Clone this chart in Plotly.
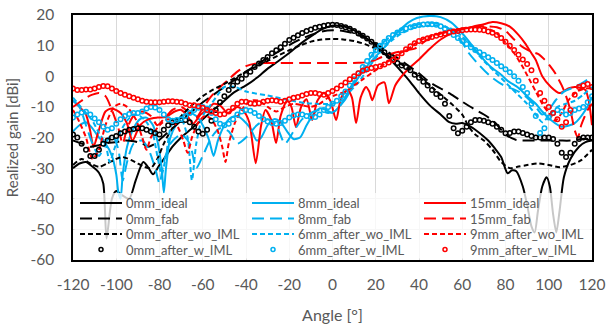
import plotly.graph_objects as go

# ---------------- 0 mm (black) ----------------
ang_0mm_ideal = [-120, -117, -114, -111, -108, -106, -104.5, -102, -100, -97, -94, -91, -87.5, -85, -83,
                 -80, -77, -74, -70, -65, -60, -55, -50, -46, -40, -35, -30, -25, -20, -15, -10, -5, 0,
                 5, 10, 15, 20, 25, 30, 35, 40, 45, 50, 54, 57, 60, 64, 68, 72, 75, 78, 81, 83, 85, 88,
                 90, 92, 93.5, 95, 97, 99, 100.5, 102, 103.5, 105, 107, 110, 114, 117, 120]
gain_0mm_ideal = [-30, -28.5, -28, -29.5, -31.5, -35, -53, -40, -37.5, -39, -40, -34, -28, -30, -32,
                  -29, -26, -23, -20, -17, -14, -11, -8, -5.5, -3, -0.5, 2.5, 5, 7.6, 10.5, 13, 15.3, 16.5,
                  16.3, 15, 12.8, 10, 6.8, 3, -1, -5.5, -9.5, -12.5, -15, -15.5, -15.3, -16.5, -18.5, -21, -23.5, -26.4, -31.7, -30.7, -31, -36,
                  -42, -49, -51, -44, -36, -33, -36, -45, -51, -44, -33, -27, -23, -21.5, -21]

ang_0mm_fab = [-120, -116, -112, -108, -104, -100, -96, -92, -88, -85, -82, -78, -74, -70, -65, -60, -55,
               -50, -45, -40, -35, -30, -25, -20, -15, -10, -5, 0, 5, 10, 15, 20, 25, 30, 35, 40, 45,
               50, 55, 60, 65, 70, 75, 80, 85, 90, 95, 100, 105, 110, 115, 120]
gain_0mm_fab = [-21, -22, -23, -22.5, -21.8, -21.5, -21, -21.2, -22, -23, -22, -19.5, -17, -14.5, -11.5, -8.5, -6,
                -3.5, -1, 1.5, 3.8, 6, 8, 10.2, 12, 13.5, 14.6, 15, 14.8, 14, 12.5, 10.5, 8.2, 6, 3.5, 1, -2,
                -4, -6, -8.3, -10.5, -12.5, -15, -19, -20.8, -21, -21, -21, -21, -21, -20.5, -20.5]

ang_0mm_wo = [-120, -116, -112, -108, -104, -100, -97, -93, -90, -87, -84, -81, -78, -75, -70, -65, -60,
              -55, -50, -45, -40, -35, -30, -25, -20, -15, -10, -5, 0, 5, 10, 15, 20, 25, 30, 35, 40,
              45, 50, 55, 60, 63, 66, 70, 74, 78, 82, 86, 90, 95, 100, 105, 110, 115, 120]
gain_0mm_wo = [-29, -27, -28.5, -29.6, -28.4, -27, -26.4, -27.4, -28.5, -29.6, -30, -27, -22, -18, -13, -9.5, -6.5,
               -4.3, -2.5, -0.5, 1.5, 3.3, 5, 6.8, 8.5, 10, 11.3, 12, 12.2, 12, 11.5, 10.5, 9, 7, 4.8, 2.5, 0,
               -3, -6, -9, -12.5, -16.5, -19, -21, -24, -28, -30, -29.5, -29, -28.5, -29, -29.7, -29, -27.4, -24]

# sampled every 2 degrees
ang_2deg = list(range(-120, 121, 2))
gain_0mm_w = [-19, -20, -22, -24, -26, -26, -24, -22, -21, -20, -19.5, -18.6, -18, -17.5, -17.2, -17,
              -17, -17.5, -18, -18.5, -19, -17.5, -16, -15, -14.5, -14.3, -14.3, -15, -16.5, -18, -18.8,
              -17.5, -14.5, -11, -8.5, -6.5, -4.5, -3, -1.8, -0.8, 0.5, 1.5, 3, 4.2, 5.3, 6.3, 7.5, 8.5,
              9.5, 10.6, 11.8, 12.6, 13.4, 14.1, 14.8, 15.3, 15.8, 16.2, 16.5, 16.7, 16.8, 16.7, 16.4, 16,
              15.5, 14.8, 14, 13.2, 12.3, 11.3, 10.2, 9, 7.8, 6.7, 5.5, 4.3, 3.5, 3, 2, 0.5, -0.5, -1.8,
              -3, -4.5, -5.8, -6.8, -9, -13, -17, -18.6, -17.8, -16.5, -15, -14.3, -14.3, -14.5, -15,
              -15.5, -16.5, -17.5, -18.6, -18.5, -18, -18, -18.5, -19, -19.5, -20, -20, -20, -20, -20.5,
              -22, -25, -26.4, -25, -22, -20.5, -20, -20, -20]

# ---------------- 8 mm / 6 mm (blue) ----------------
ang_8mm_ideal = [-120, -117, -114, -111, -108, -105, -102, -100, -99, -98, -97, -95, -92, -89, -86, -83,
                 -81, -79, -78, -77, -75, -72, -69, -66, -63, -60, -57, -55, -53, -50, -47, -44, -41, -38,
                 -35, -33, -30, -27, -24, -21, -18, -15, -12, -9, -6, -3, 0, 3, 6, 10, 15, 20, 23, 27, 31,
                 35, 39, 45, 50, 55, 60, 63, 68, 73, 78, 81, 86, 90, 94, 97, 101, 106, 112, 117, 120]
gain_8mm_ideal = [-18, -16, -15, -17, -20, -22, -26, -32, -38, -40, -32, -23, -17, -14, -13.5, -16,
                  -21, -30, -38, -30, -20, -15.5, -13, -12, -13, -16, -21, -26, -21, -16, -13.5, -13, -14.5, -17,
                  -21, -20, -16, -14, -15, -18, -20.5, -20, -16, -12.5, -10.5, -11, -12, -10, -7.5, -2.5, 2.5, 6.5, 8.6, 12, 15,
                  17.5, 19, 19.7, 19.3, 17.5, 14, 11.5, 7, 3.2, 0.5, -1.5, -3.8, -6.5, -9, -11.5, -14.3, -16.5, -15.3, -11, -6.8]

ang_8mm_fab = [-120, -117, -114, -111, -108, -105, -102, -99, -97, -95, -92, -88, -85, -82, -80, -78, -75,
               -70, -66, -63, -60, -56, -52, -48, -44, -40, -35, -30, -26, -22, -18, -14, -10, -6, -2, 2,
               5, 8, 12, 16, 20, 25, 30, 35, 40, 45, 50, 55, 60, 63, 68, 73, 78, 81, 86, 90, 94, 97,
               100, 103, 107, 112, 116, 120]
gain_8mm_fab = [-8, -10, -16, -22, -26, -22, -19, -24, -34, -28, -22, -21, -24, -30, -35, -28, -22,
                -19, -22, -30, -26, -20, -17, -18, -22, -20, -16, -14, -16, -22, -18, -14, -12, -11, -12, -11,
                -8, -4, 0.5, 4.5, 8.5, 12, 14.5, 16, 17, 17.5, 17, 15, 11, 7.6, 3.5, 0, -2.5, -3.5, -5, -7, -10, -12.5,
                -11, -8, -5, -3.5, -2, 0]

ang_6mm_wo = [-120, -117, -114, -111, -108, -105, -103, -101, -98, -95, -92, -89, -86, -83, -81, -79, -77,
              -74, -70, -67, -65, -63, -60, -56, -53, -50, -45, -40, -30, -20, -12, 0, 4, 8, 12, 16, 20,
              24, 28, 32, 36, 40, 45, 50, 55, 60, 65, 70, 75, 80, 85, 90, 94, 97, 100, 104, 108, 112,
              116, 120]
gain_6mm_wo = [-7, -9.5, -12, -14.5, -18.5, -22, -28, -24, -18, -14.5, -12.5, -13, -15, -19, -26, -32, -26,
               -15, -14, -20, -34, -22, -13, -9, -6, -3.5, -3.5, -5, -6.3, -7.8, -8.8, -9, -8, -5, -2, 2, 6,
               9.5, 12, 14, 15.3, 16.2, 16.6, 16.5, 15.5, 13, 9, 5, 1.5, -2, -5.5, -9, -12.5, -15, -13, -10, -9, -8,
               -6, -3.5]

gain_6mm_w = [-13.5, -12.5, -11.8, -11.6, -12.5, -13.8, -15, -16.5, -17.5, -17, -15.5, -14, -13, -12.3,
              -12, -12, -11.5, -10.5, -10, -10.2, -11, -12.5, -14, -14.5, -14.3, -14, -13, -12, -11, -10.3,
              -10, -10.5, -12, -14, -15.5, -16, -15.5, -14, -12.5, -11.5, -11, -11.3, -12, -13, -14, -14.8,
              -15.3, -15.5, -15.3, -14.5, -13.5, -12.8, -12.5, -12.5, -13, -13.5, -13.3, -12.5, -11, -10,
              -9, -8, -6.5, -5, -3, -1, 1, 3, 5, 7, 8.5, 10, 11.3, 12.5, 13.5, 14.3, 15, 15.6, 16, 16.4,
              16.7, 16.9, 17, 17, 16.8, 16.3, 15.5, 14.5, 13.5, 12.5, 11.5, 10.5, 9.5, 8.6, 7.8, 7, 6.2,
              5.3, 4.3, 3.3, 2.3, 1.3, 0, -1.5, -3.5, -5.5, -9, -13, -18.5, -17, -13.5, -12, -11, -11.5,
              -12.5, -12, -11, -10.5, -10, -8.5, -6.5]

# ---------------- 15 mm / 9 mm (red) ----------------
ang_15mm_ideal = [-120, -117, -114, -112, -110.5, -108, -105, -102, -98, -95, -92.5, -89, -85, -81, -77,
                  -73, -70, -67, -64.5, -61, -58, -55, -52, -48.5, -44, -41, -38.5, -35.5, -33, -31,
                  -28.5, -26.1, -24, -21, -19, -16.9, -14.5, -12, -9.4, -7, -4, -1, 1.7, 4, 7, 9, 10.9,
                  13, 15.5, 17, 18.4, 21, 24, 26.1, 29, 32, 36, 40, 45, 50, 55, 60, 65, 70, 74, 78, 82,
                  86, 89, 92, 94, 97, 101, 105, 109, 112, 115, 117, 118.5, 120]
gain_15mm_ideal = [-8, -10, -12.5, -18, -23, -17.5, -11.5, -10.5, -12, -15.5, -21, -16, -14, -13.5, -13.3,
                   -11.5, -11, -13, -15.5, -12.5, -11, -9, -9.5, -12, -10, -11.5, -15, -28.4, -16, -11,
                   -14, -21.8, -13, -8, -10, -16.6, -10, -7.5, -14.3, -8, -5.5, -8, -14.3, -7, -4.5, -7, -15.3,
                   -7, -3.5, -5, -7.8, -3, -2, -8.8, -3, 0, 3, 5.5, 9, 12, 14, 15.3, 16.2, 17, 17.7, 17.3, 16.2,
                   13.5, 10.8, 7.5, 5.3, 0, -3.5, -5.5, -4, -3.5, -3.8, -4.5, -8, -16]

ang_15mm_fab = [-120, -117, -114, -111, -108, -105, -102, -99, -97, -95, -92, -88, -84, -81, -78, -74, -70,
                -66, -63, -60, -56, -52, -48, -44, -40, -35, -25, -15, -5, 5, 12, 18, 23, 28, 35, 38, 43,
                48, 53, 58, 63, 68, 72, 76, 80, 84, 88, 92, 95, 98, 101, 103, 106, 108, 110, 112, 113.5,
                115, 118, 120]
gain_15mm_fab = [-10, -8.5, -7, -6, -5.5, -6.5, -11, -17, -22, -17, -13, -11.5, -13, -16, -14, -11, -10,
                 -12, -13.5, -10.5, -6.5, -3.5, -1, 1.5, 3.3, 4.2, 4.3, 4.3, 4.3, 4.3, 4.4, 4.8, 6.3, 7.5, 8.6, 9, 11.5,
                 13.5, 14.5, 15.3, 16, 16.3, 16.3, 16, 14.8, 12, 9.5, 8, 7.3, 5.5, 3, 1, -3, -6.5, -11, -17.6, -20,
                 -16, -11, -9]

ang_9mm_wo = [-120, -117, -114, -111, -108, -105, -101, -98, -95, -91, -88, -86, -84, -80, -76, -72, -69,
              -67, -65, -62, -59, -56, -53, -51, -49.5, -48, -45, -42, -38, -34, -30, -26, -22, -18, -14,
              -10, -6, -2, 2, 6, 10, 14, 18, 22, 26, 30, 35, 40, 45, 50, 55, 60, 65, 70, 75, 80, 84,
              88, 91, 94, 97, 100, 103, 106, 109, 113, 117, 120]
gain_9mm_wo = [-11, -15, -20, -27, -24, -16, -10, -9, -10, -14, -20, -24, -20, -16, -14, -16, -21,
               -25, -20, -15, -13, -14, -18, -23, -28, -22, -15, -11, -8, -8, -10, -11.5, -10, -9, -9.5,
               -10, -9, -7, -6, -5, -3, -1, 1, 3, 5, 7, 9, 11.5, 13, 14, 15, 15.5, 16, 16, 14.5, 11, 7.5,
               3, -1, -5, -9, -12, -14.5, -12, -8, -5, -4, -4]

gain_9mm_w = [-4, -4.5, -4.5, -4.3, -4.3, -4, -3.5, -3.2, -3.3, -4, -4.8, -5.5, -6, -6.5, -7, -7.5, -8,
              -8.3, -8.5, -8.5, -8.5, -8.3, -8.2, -8.2, -8.3, -8.5, -9, -9.5, -9.5, -9.8, -10.3, -11,
              -11.5, -12, -12.5, -12.3, -11.5, -10.3, -9, -8.3, -8.3, -8.8, -9, -8.8, -8.3, -8, -7.8, -8,
              -8.3, -8, -7.5, -7, -6.8, -6.3, -5.8, -5.5, -5.5, -5.8, -6, -5.5, -4.8, -4, -3, -2, -1, 0,
              1, 1.8, 2.3, 2.7, 3, 3.3, 3.8, 4.5, 5.3, 6.3, 7.5, 8.8, 9.8, 10.8, 11.5, 12, 12.4, 12.8,
              13.2, 13.6, 14, 14.3, 14.6, 14.8, 15, 15.2, 15.3, 15.3, 15.2, 15, 14.6, 14.2, 13.5, 12.5,
              11.3, 10, 8.6, 7, 5.5, 4, 2, -1.5, -5.5, -8, -10, -12, -14, -16.5, -15, -11, -6, -3.5, -3,
              -2.5, -3.5]

# axis ticks (plain hyphen for negative labels)
x_ticks = list(range(-120, 121, 20))
x_tick_text = [str(v) for v in x_ticks]
y_ticks = list(range(-60, 21, 10))
y_tick_text = [str(v) for v in y_ticks]

BLACK = "#000000"
BLUE = "#00B0F0"
RED = "#FF0000"
GREY_TEXT = "#595959"
FONT = "Lato"

LONG_DASH = "12px,6px"
SHORT_DASH = "5px,3px"

# (name, angles, gains, colour, style), listed row by row for the three-column key
series = [
    ("0mm_ideal", ang_0mm_ideal, gain_0mm_ideal, BLACK, "solid"),
    ("8mm_ideal", ang_8mm_ideal, gain_8mm_ideal, BLUE, "solid"),
    ("15mm_ideal", ang_15mm_ideal, gain_15mm_ideal, RED, "solid"),
    ("0mm_fab", ang_0mm_fab, gain_0mm_fab, BLACK, LONG_DASH),
    ("8mm_fab", ang_8mm_fab, gain_8mm_fab, BLUE, LONG_DASH),
    ("15mm_fab", ang_15mm_fab, gain_15mm_fab, RED, LONG_DASH),
    ("0mm_after_wo_IML", ang_0mm_wo, gain_0mm_wo, BLACK, SHORT_DASH),
    ("6mm_after_wo_IML", ang_6mm_wo, gain_6mm_wo, BLUE, SHORT_DASH),
    ("9mm_after_wo_IML", ang_9mm_wo, gain_9mm_wo, RED, SHORT_DASH),
    ("0mm_after_w_IML", ang_2deg, gain_0mm_w, BLACK, "markers"),
    ("6mm_after_w_IML", ang_2deg, gain_6mm_w, BLUE, "markers"),
    ("9mm_after_w_IML", ang_2deg, gain_9mm_w, RED, "markers"),
]

# figure geometry in pixels
W, H = 606, 324
ML, MR, MT, MB = 73, 14, 15, 64
PW, PH = W - ML - MR, H - MT - MB


def px_x(px):
    return (px - ML) / PW


def px_y(py):
    return (H - MB - py) / PH


fig = go.Figure()
for name, ang, gain, colour, style in series:
    if style == "markers":
        fig.add_trace(go.Scatter(
            x=ang, y=gain, name=name, mode="markers", showlegend=False,
            marker=dict(symbol="circle-open", size=4.5, color=colour, line=dict(width=1.5, color=colour)),
        ))
    else:
        fig.add_trace(go.Scatter(
            x=ang, y=gain, name=name, mode="lines", showlegend=False,
            line=dict(color=colour, width=2, dash=style, shape="spline", smoothing=0.7),
        ))

# key: translucent panel along the bottom of the plot area, three columns by four rows
shapes = [dict(type="rect", xref="paper", yref="paper", layer="above",
               x0=px_x(74.5), x1=px_x(590.5), y0=px_y(258.5), y1=px_y(193),
               fillcolor="rgba(255,255,255,0.78)", line=dict(width=0))]
annotations = []
COL_PITCH, ROW_PITCH = 172, 15.5
for i, (name, ang, gain, colour, style) in enumerate(series):
    row, col = divmod(i, 3)
    xs = 80 + COL_PITCH * col
    yc = 203 + ROW_PITCH * row
    if style == "markers":
        cx = xs + 21
        shapes.append(dict(type="circle", xref="paper", yref="paper", layer="above",
                           x0=px_x(cx - 2), x1=px_x(cx + 2), y0=px_y(yc + 2), y1=px_y(yc - 2),
                           line=dict(color=colour, width=1.5)))
    else:
        shapes.append(dict(type="line", xref="paper", yref="paper", layer="above",
                           x0=px_x(xs), x1=px_x(xs + 42), y0=px_y(yc), y1=px_y(yc),
                           line=dict(color=colour, width=2,
                                     dash=None if style == "solid" else style)))
    annotations.append(dict(xref="paper", yref="paper", x=px_x(xs + 44), y=px_y(yc),
                            xanchor="left", yanchor="middle", showarrow=False, text=name,
                            font=dict(family=FONT, size=13, color=GREY_TEXT)))

axis_common = dict(
    showgrid=True, gridcolor="#D9D9D9", gridwidth=1,
    showline=True, mirror=True, linecolor="#000000", linewidth=1.5,
    ticks="", zeroline=False, automargin=False, ticklabeloverflow="allow",
    tickfont=dict(family=FONT, size=15.5, color=GREY_TEXT),
)

fig.update_xaxes(range=[-120, 120], tickvals=x_ticks, ticktext=x_tick_text, ticklabelstandoff=10,
                 title_text="Angle [°]", title_standoff=20,
                 title_font=dict(family=FONT, size=16, color=GREY_TEXT), **axis_common)
fig.update_yaxes(range=[-60, 20], tickvals=y_ticks, ticktext=y_tick_text, ticklabelstandoff=14,
                 title_text="Realized gain [dBi]", title_standoff=8,
                 title_font=dict(family=FONT, size=15, color=GREY_TEXT), **axis_common)

fig.update_layout(
    width=W, height=H,
    margin=dict(l=ML, r=MR, t=MT, b=MB),
    paper_bgcolor="white", plot_bgcolor="white",
    font=dict(family=FONT, color=GREY_TEXT),
    showlegend=False,
    shapes=shapes,
    annotations=annotations,
)

fig.write_html("out.html")
